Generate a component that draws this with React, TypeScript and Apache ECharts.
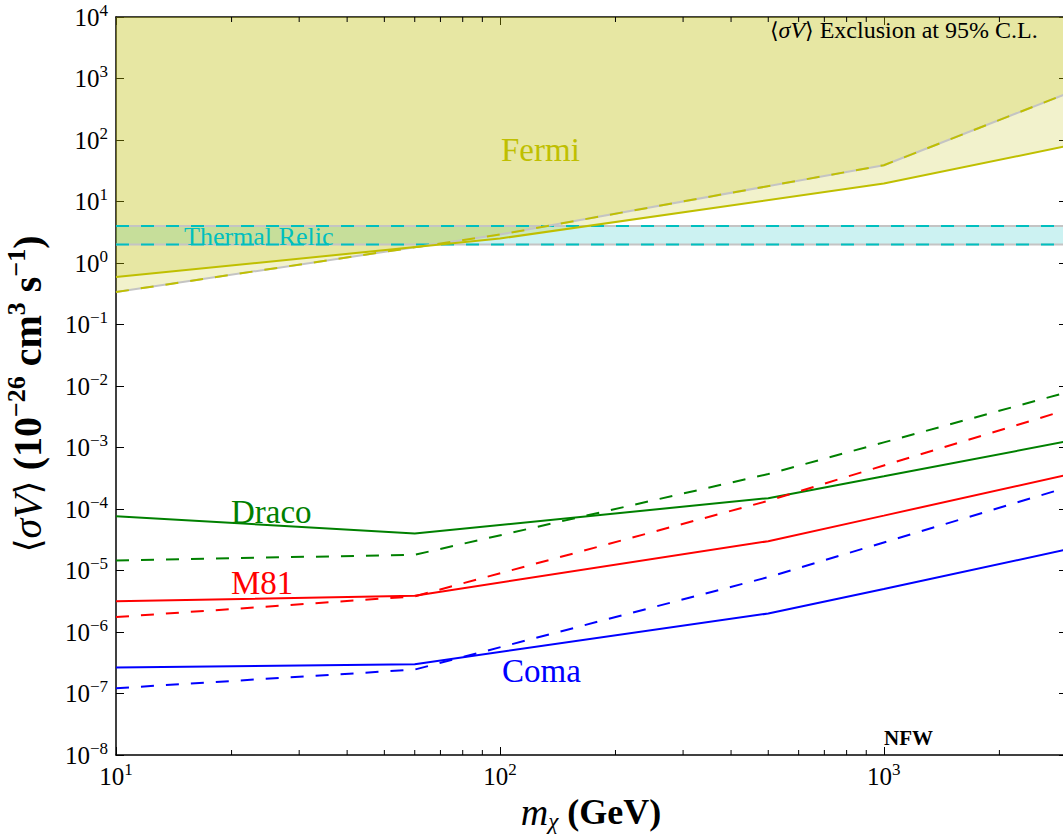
import React, { useEffect, useRef } from "react";
import * as echarts from "echarts";

// ---- data ----
const masses = [10, 60, 500, 1000, 3000];
const dracoSolid = [7.6e-5, 4.0e-5, 1.5e-4, 3.4e-4, 1.26e-3];
const dracoDashed = [1.46e-5, 1.8e-5, 3.7e-4, 1.21e-3, 7.9e-3];
const m81Solid = [3.15e-6, 3.9e-6, 3.0e-5, 7.8e-5, 3.6e-4];
const m81Dashed = [1.75e-6, 3.8e-6, 1.36e-4, 5.1e-4, 4.1e-3];
const comaSolid = [2.64e-7, 3.0e-7, 2.0e-6, 5.0e-6, 2.2e-5];
const comaDashed = [1.22e-7, 2.45e-7, 7.8e-6, 2.86e-5, 2.24e-4];

const fermiMasses = [10, 100, 1000, 3000];
const fermiSolid = [0.59, 2.5, 19.6, 80];
const fermiDashed = [0.337, 2.9, 38.9, 570];

const thermalRelic = [2, 4];
const xRange = [10, 3000];
const yRange = [1e-8, 1e4];
const xMinorTicks = [20, 30, 40, 50, 60, 70, 80, 90, 200, 300, 400, 500, 600, 700, 800, 900, 2000];

const SERIF = "'Liberation Serif', 'DejaVu Serif', serif";
const DASH = [13, 12];

const pairs = (xs: number[], ys: number[]) => xs.map((x, i) => [x, ys[i]]);

const lineSeries = (xs: number[], ys: number[], color: string, dashed: boolean, z = 4, width = 2) => ({
  type: "line",
  data: pairs(xs, ys),
  symbol: "none",
  showSymbol: false,
  silent: true,
  z,
  lineStyle: { color, width, type: dashed ? DASH : "solid" },
});

const supText = (n: number) => String(n).replace("-", "\u2212");
const logLabel = (v: number) => {
  const l = Math.log10(v);
  const e = Math.round(l);
  if (Math.abs(l - e) > 1e-6) return "";
  return `{b|10}{s|${supText(e)}}`;
};
const labelRich = {
  b: { fontFamily: SERIF, fontSize: 25, lineHeight: 31, color: "#000" },
  s: { fontFamily: SERIF, fontSize: 17, lineHeight: 17, verticalAlign: "top", color: "#000" },
};

const axisLine = { show: true, onZero: false, lineStyle: { color: "#000", width: 1.5 } };
const axisTick = { show: true, inside: true, length: 8, lineStyle: { color: "#000", width: 1 } };

const txt = (text: string, x: number, y: number, fontSize: number, color: string, extra: any = {}) => ({
  type: "text",
  x,
  y,
  silent: true,
  z: 100,
  style: {
    text,
    fill: color,
    fontSize,
    fontFamily: SERIF,
    textAlign: "left",
    align: "left",
    textVerticalAlign: "middle",
    verticalAlign: "middle",
    ...extra,
  },
});

export default function App() {
  const ref = useRef<HTMLDivElement>(null);

  useEffect(() => {
    if (!ref.current) return;
    const chart = echarts.init(ref.current, undefined, { renderer: "svg" });

    const yellow = "#bfbf00";
    const cyan = "#00bfbf";
    const grey = "#c4c4c4";

    const option: any = {
      animation: false,
      backgroundColor: "#fff",
      textStyle: { fontFamily: SERIF },
      grid: { left: 116, top: 17, right: 4, bottom: 81, containLabel: false },
      xAxis: [
        {
          type: "log",
          logBase: 10,
          min: xRange[0],
          max: xRange[1],
          interval: 1,
          position: "bottom",
          axisLine,
          axisTick,
          splitLine: { show: false },
          minorTick: { show: false },
          axisLabel: { formatter: logLabel, rich: labelRich, margin: 6, showMaxLabel: false },
        },
        {
          type: "log",
          logBase: 10,
          min: xRange[0],
          max: xRange[1],
          interval: 1,
          position: "top",
          axisLine,
          axisTick,
          splitLine: { show: false },
          axisLabel: { show: false },
        },
      ],
      yAxis: [
        {
          type: "log",
          logBase: 10,
          min: yRange[0],
          max: yRange[1],
          interval: 1,
          position: "left",
          axisLine,
          axisTick,
          splitLine: { show: false },
          axisLabel: { formatter: logLabel, rich: labelRich, margin: 8 },
        },
        {
          type: "log",
          logBase: 10,
          min: yRange[0],
          max: yRange[1],
          interval: 1,
          position: "right",
          axisLine,
          axisTick,
          splitLine: { show: false },
          axisLabel: { show: false },
        },
      ],
      series: [
        // Fermi exclusion fills (to the top of the axis)
        {
          type: "line",
          data: pairs(fermiMasses, fermiSolid),
          symbol: "none",
          silent: true,
          z: 1,
          lineStyle: { width: 0, opacity: 0 },
          areaStyle: { color: "rgba(191,191,0,0.2)", opacity: 1, origin: "end" },
        },
        {
          type: "line",
          data: pairs(fermiMasses, fermiDashed),
          symbol: "none",
          silent: true,
          z: 1,
          lineStyle: { width: 0, opacity: 0 },
          areaStyle: { color: "rgba(191,191,0,0.2)", opacity: 1, origin: "end" },
        },
        // Thermal relic band
        {
          ...lineSeries(xRange, [thermalRelic[0], thermalRelic[0]], grey, false, 2, 2),
          markArea: {
            silent: true,
            itemStyle: { color: "rgba(0,191,191,0.2)", opacity: 1 },
            data: [[{ yAxis: thermalRelic[0] }, { yAxis: thermalRelic[1] }]],
          },
        },
        lineSeries(xRange, [thermalRelic[1], thermalRelic[1]], grey, false, 2, 2),
        lineSeries(xRange, [thermalRelic[0], thermalRelic[0]], cyan, true, 3, 2),
        lineSeries(xRange, [thermalRelic[1], thermalRelic[1]], cyan, true, 3, 2),
        // Fermi lines
        lineSeries(fermiMasses, fermiDashed, grey, false, 3, 2),
        lineSeries(fermiMasses, fermiDashed, yellow, true, 4, 2),
        lineSeries(fermiMasses, fermiSolid, yellow, false, 4, 2),
        // Targets
        lineSeries(masses, dracoSolid, "#008000", false),
        lineSeries(masses, dracoDashed, "#008000", true),
        lineSeries(masses, m81Solid, "#ff0000", false),
        lineSeries(masses, m81Dashed, "#ff0000", true),
        lineSeries(masses, comaSolid, "#0000ff", false),
        lineSeries(masses, comaDashed, "#0000ff", true),
        // minor x ticks (bottom and top)
        {
          type: "custom",
          silent: true,
          z: 10,
          clip: false,
          data: xMinorTicks.map((v) => [v, 1]),
          renderItem: (params: any, api: any) => {
            const x = api.coord([api.value(0), api.value(1)])[0];
            const cs = params.coordSys;
            const st = { stroke: "#000", lineWidth: 1 };
            return {
              type: "group",
              children: [
                { type: "line", shape: { x1: x, y1: cs.y + cs.height, x2: x, y2: cs.y + cs.height - 5 }, style: st },
                { type: "line", shape: { x1: x, y1: cs.y, x2: x, y2: cs.y + 5 }, style: st },
              ],
            };
          },
        },
      ],
      graphic: [
        txt("Fermi", 501, 150, 33, yellow),
        txt("Thermal Relic", 184, 236, 26, cyan),
        txt("Draco", 231, 512, 33, "#008000"),
        txt("M81", 231, 583, 33, "#ff0000"),
        txt("Coma", 502, 671, 33, "#0000ff"),
        txt("NFW", 884, 738, 21, "#000", { fontWeight: "bold" }),
        txt("{m|\u27e8}{i|\u03c3V}{m|\u27e9} Exclusion at 95% C.L.", 770, 30, 24, "#000", {
          rich: {
            m: { fontFamily: "'DejaVu Serif', serif", fontSize: 22, fill: "#000", color: "#000" },
            i: { fontFamily: SERIF, fontStyle: "italic", fontSize: 24, fill: "#000", color: "#000" },
          },
        }),
        {
          type: "text",
          x: 591,
          y: 812,
          silent: true,
          z: 100,
          style: {
            text: "{i|m}{sub|\u03c7}{b| (GeV)}",
            textAlign: "center",
            align: "center",
            textVerticalAlign: "middle",
            verticalAlign: "middle",
            fill: "#000",
            rich: {
              i: { fontFamily: SERIF, fontStyle: "italic", fontSize: 38, lineHeight: 42, fill: "#000", color: "#000" },
              sub: { fontFamily: SERIF, fontStyle: "italic", fontSize: 23, lineHeight: 23, verticalAlign: "bottom", fill: "#000", color: "#000" },
              b: { fontFamily: SERIF, fontWeight: "bold", fontSize: 36, lineHeight: 42, fill: "#000", color: "#000" },
            },
          },
        },
        {
          type: "text",
          x: 27,
          y: 394,
          rotation: Math.PI / 2,
          silent: true,
          z: 100,
          style: {
            text: "{m|\u27e8}{i|\u03c3V}{m|\u27e9}{b| (10}{s|\u221226}{b| cm}{s|3}{b| s}{s|\u22121}{b|)}",
            textAlign: "center",
            align: "center",
            textVerticalAlign: "middle",
            verticalAlign: "middle",
            fill: "#000",
            rich: {
              m: { fontFamily: "'DejaVu Serif', serif", fontSize: 36, lineHeight: 48, fill: "#000", color: "#000" },
              i: { fontFamily: SERIF, fontStyle: "italic", fontSize: 40, lineHeight: 48, fill: "#000", color: "#000" },
              b: { fontFamily: SERIF, fontWeight: "bold", fontSize: 40, lineHeight: 48, fill: "#000", color: "#000" },
              s: { fontFamily: SERIF, fontWeight: "bold", fontSize: 26, lineHeight: 26, verticalAlign: "top", fill: "#000", color: "#000" },
            },
          },
        },
      ],
    };

    chart.setOption(option);
    return () => chart.dispose();
  }, []);

  return (
    <div
      style={{
        position: "fixed",
        left: 0,
        top: 0,
        width: 1063,
        height: 836,
        overflow: "hidden",
        background: "#fff",
      }}
    >
      <div ref={ref} style={{ width: 1071, height: 836 }} />
    </div>
  );
}
